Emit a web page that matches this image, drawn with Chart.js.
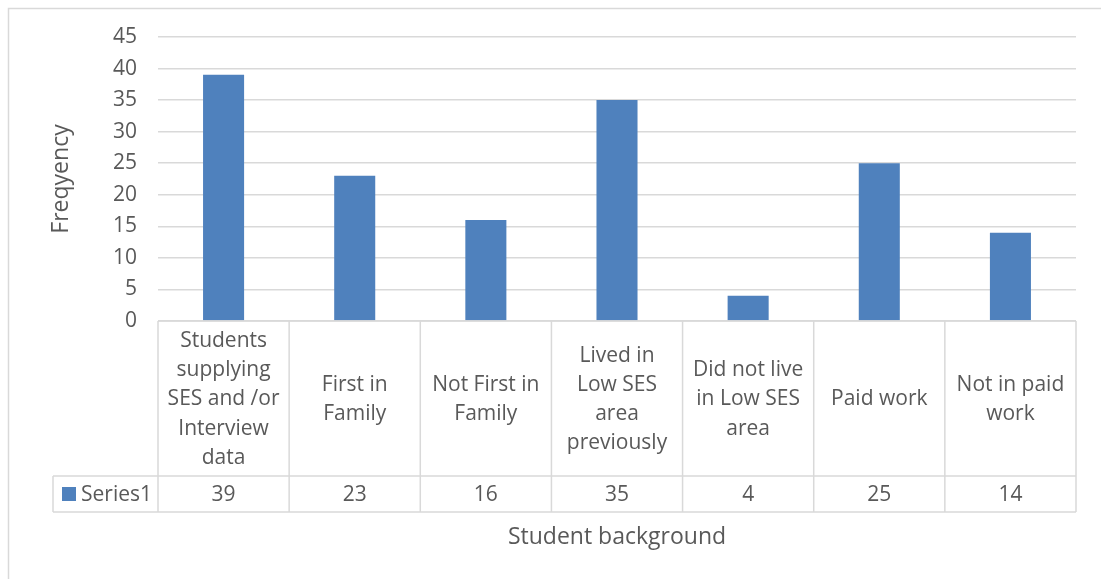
<!DOCTYPE html>
<html>
<head>
<meta charset="utf-8">
<script src="https://cdn.jsdelivr.net/npm/chart.js@4.4.1/dist/chart.umd.min.js"></script>
<style>
  html, body { margin: 0; padding: 0; background: #fff; }
  #wrap { width: 1101px; height: 579px; }
</style>
</head>
<body>
<div id="wrap"><canvas id="barChart" width="1101" height="579"></canvas></div>
<script>
// 카테고리 (그림에서 줄바꿈된 그대로)
const categoryLines = [
    ['Students', 'supplying', 'SES and /or', 'Interview', 'data'],
    ['First in', 'Family'],
    ['Not First in', 'Family'],
    ['Lived in', 'Low SES', 'area', 'previously'],
    ['Did not live', 'in Low SES', 'area'],
    ['Paid work'],
    ['Not in paid', 'work']
];
const seriesName = 'Series1';
const frequency = [39, 23, 16, 35, 4, 25, 14];
const yMax = 45;
const yStep = 5;
const xTitle = 'Student background';
const yTitle = 'Freqyency';

const FONT = '"Open Sans", sans-serif';
const TEXT = '#595959';
const LINE = '#d9d9d9';
const BLUE = '#4f81bd';

// 표 아래 데이터 테이블 그리기
const dataTablePlugin = {
    id: 'dataTable',
    beforeDraw(chart) {
        const ctx = chart.ctx;
        ctx.save();
        ctx.strokeStyle = LINE;
        ctx.lineWidth = 1.5;
        ctx.beginPath();
        ctx.moveTo(8.5, 579);
        ctx.lineTo(8.5, 8.5);
        ctx.lineTo(1101, 8.5);
        ctx.stroke();
        ctx.restore();
    },
    afterDraw(chart) {
        const ctx = chart.ctx;
        const xs = chart.scales.x;
        const ys = chart.scales.y;
        const top = ys.getPixelForValue(0);
        const mid = top + 155;
        const bottom = mid + 36;
        const legendLeft = 53;
        const n = categoryLines.length;
        const left = xs.getPixelForValue(-0.5);
        const right = xs.getPixelForValue(n - 0.5);

        ctx.save();
        ctx.strokeStyle = LINE;
        ctx.lineWidth = 1.5;
        ctx.beginPath();
        ctx.moveTo(left, top); ctx.lineTo(right, top);
        ctx.moveTo(legendLeft, mid); ctx.lineTo(right, mid);
        ctx.moveTo(legendLeft, bottom); ctx.lineTo(right, bottom);
        ctx.moveTo(legendLeft, mid); ctx.lineTo(legendLeft, bottom);
        for (let i = 0; i <= n; i++) {
            const ex = xs.getPixelForValue(i - 0.5);
            ctx.moveTo(ex, top); ctx.lineTo(ex, bottom);
        }
        ctx.stroke();

        ctx.fillStyle = TEXT;
        ctx.textAlign = 'center';
        ctx.textBaseline = 'middle';
        ctx.font = '21px ' + FONT;
        const lh = 29.3;
        categoryLines.forEach((lines, i) => {
            const cx = xs.getPixelForValue(i);
            const cy = (top + mid) / 2 + 1;
            lines.forEach((t, j) => {
                ctx.fillText(t, cx, cy + (j - (lines.length - 1) / 2) * lh);
            });
            ctx.fillText(String(frequency[i]), cx, (mid + bottom) / 2 + 1);
        });

        // 범례 셀
        ctx.fillStyle = BLUE;
        ctx.fillRect(62, (mid + bottom) / 2 - 7, 14, 14);
        ctx.fillStyle = TEXT;
        ctx.textAlign = 'left';
        ctx.fillText(seriesName, 81, (mid + bottom) / 2 + 1);

        // 축 제목
        ctx.textAlign = 'center';
        ctx.font = '23px ' + FONT;
        ctx.fillText(xTitle, (left + right) / 2, bottom + 25);
        ctx.translate(61, (ys.top + ys.bottom) / 2);
        ctx.rotate(-Math.PI / 2);
        ctx.fillText(yTitle, 0, 0);
        ctx.restore();
    }
};

const ctx = document.getElementById('barChart').getContext('2d');
const barChart = new Chart(ctx, {
    type: 'bar',
    data: {
        labels: categoryLines,
        datasets: [{
            label: seriesName,
            data: frequency,
            backgroundColor: BLUE,
            borderWidth: 0,
            categoryPercentage: 1,
            barPercentage: 0.313
        }]
    },
    options: {
        responsive: false,
        animation: false,
        layout: { padding: { top: 37, right: 25, left: 0, bottom: 0 } },
        plugins: {
            legend: { display: false },
            tooltip: { enabled: false }
        },
        scales: {
            x: {
                grid: { display: false },
                border: { display: false },
                ticks: { display: false },
                afterFit(scale) { scale.height = 258; }
            },
            y: {
                min: 0,
                max: yMax,
                ticks: {
                    stepSize: yStep,
                    padding: 21,
                    color: TEXT,
                    font: { family: FONT, size: 21 }
                },
                grid: { color: LINE, lineWidth: 1.5, drawTicks: false },
                border: { display: false },
                afterFit(scale) { scale.width = 158; }
            }
        }
    },
    plugins: [dataTablePlugin]
});
</script>
</body>
</html>
